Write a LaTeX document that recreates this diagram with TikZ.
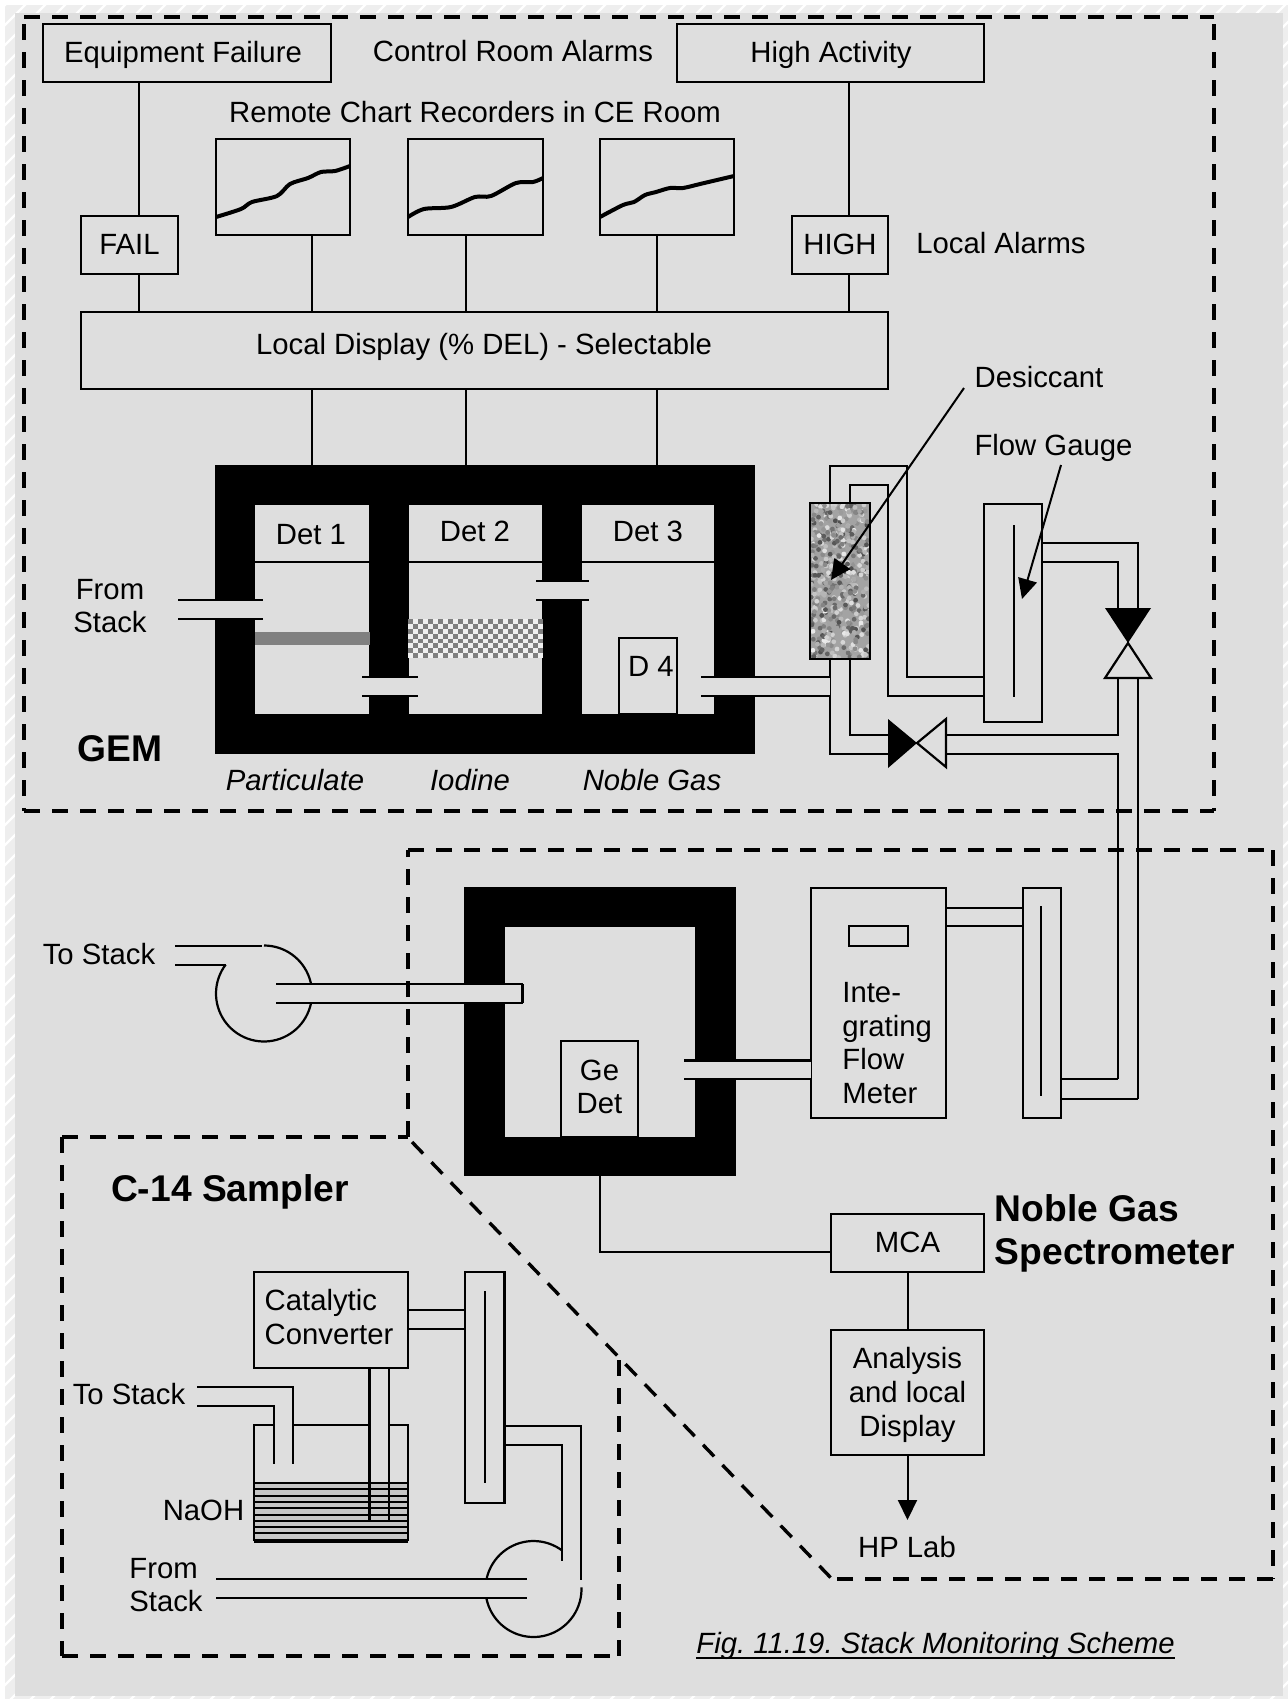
\documentclass[tikz,border=0pt]{standalone}
\usepackage{fontspec}
\setmainfont{Liberation Sans}
\usetikzlibrary{arrows.meta}
\frenchspacing

\definecolor{panel}{HTML}{DEDEDE}
\definecolor{band}{HTML}{EEEEEE}
\definecolor{felt}{HTML}{808080}
\definecolor{liquid}{HTML}{C6C6C6}

\newcommand{\lblfont}{\fontsize{14.65}{16.8}\selectfont}
\newcommand{\headfont}{\fontsize{18.6}{21.5}\selectfont\bfseries}
\newcommand{\duct}[4]{%
  \fill[panel] (#1,#2) rectangle (#3,#4);
  \draw[tube] (#1,#2) -- (#3,#2);
  \draw[tube] (#1,#4) -- (#3,#4);}

\tikzset{
  box/.style={draw,line width=1.2pt,fill=panel,inner sep=0pt,align=center,font=\lblfont},
  lbl/.style={inner sep=0pt,align=center,font=\lblfont},
  ital/.style={inner sep=0pt,font=\lblfont\itshape},
  head/.style={inner sep=0pt,align=left,font=\headfont},
  shield/.style={fill=black,inner sep=0pt},
  cell/.style={fill=panel,inner sep=0pt},
  wire/.style={line width=1pt},
  tube/.style={line width=1.1pt},
  dashbox/.style={line width=1.7pt,dash pattern=on 8pt off 6pt},
  ptr/.style={line width=1pt,-{Triangle[length=10pt,width=9.5pt]}},
  trace/.style={line width=2pt,line join=round}
}

\begin{document}
\begin{tikzpicture}[x=0.5pt,y=-0.5pt]
\useasboundingbox (0,0) rectangle (1288,1699);

\fill[white] (0,0) rectangle (1288,1699);
\begin{scope}
\clip (5,5) rectangle (1288,1699);
\fill[band] (5,5) rectangle (1288,1699);
\foreach \k in {10,30,...,3000}
  \draw[white,line width=1.2pt] (\k,0) -- (0,\k);
\end{scope}
\fill[panel] (15,13) rectangle (1283,1696);

\coordinate (failx) at (139,0);
\coordinate (highx) at (849,0);
\coordinate (linea) at (312,0);
\coordinate (lineb) at (466,0);
\coordinate (linec) at (657,0);

\node[box,minimum width=144pt,minimum height=29pt] (equip) at (187,53) {};
\node[lbl] (equiptxt) at (183,55) {Equipment Failure};
\node[box,minimum width=153.5pt,minimum height=29pt] (high) at (830.5,53) {};
\node[lbl] (hightxt) at (831,55) {High Activity};
\node[lbl] (alarms) at (513,51) {Control Room Alarms};
\node[lbl] (remote) at (475,112) {Remote Chart Recorders in CE Room};

\node[box,minimum width=67pt,minimum height=48pt] (chartA) at (283,187) {};
\node[box,minimum width=67.5pt,minimum height=48pt] (chartB) at (475.5,187) {};
\node[box,minimum width=67pt,minimum height=48pt] (chartC) at (667,187) {};
\draw[trace] plot[smooth] coordinates {(216,217) (241,209) (252,202) (277,196) (290,184) (308,178) (321,172) (335,171) (350,166)};
\draw[trace] plot[smooth] coordinates {(408,217) (424,209) (451,207) (475,197) (491,196) (516,183) (533,182) (543,178)};
\draw[trace] plot[smooth] coordinates {(600,217) (623,205) (634,202) (645,195) (656,192) (670,188) (683,188) (700,184) (734,176)};

\node[box,minimum width=48.5pt,minimum height=29pt] (fail) at (129.5,245) {};
\node[lbl] (failtxt) at (129.5,244) {FAIL};
\node[box,minimum width=48pt,minimum height=29pt] (hilocal) at (840,245) {};
\node[lbl] (hilocaltxt) at (840,244) {HIGH};
\node[lbl] (local) at (1001,243) {Local Alarms};
\node[box,minimum width=403.5pt,minimum height=38.5pt] (display) at (484.5,350.5) {};
\node[lbl] (displaytxt) at (484,347) {Local Display (\% DEL) - Selectable};

\draw[wire] (failx |- equip.south) -- (failx |- fail.north);
\draw[wire] (failx |- fail.south) -- (failx |- display.north);
\draw[wire] (highx |- high.south) -- (highx |- hilocal.north);
\draw[wire] (highx |- hilocal.south) -- (highx |- display.north);

\node[shield,minimum width=270pt,minimum height=144.5pt] (gem) at (485,609.5) {};
\node[cell,minimum width=57pt,minimum height=104.5pt] (cellA) at (312,609.5) {};
\node[cell,minimum width=66.75pt,minimum height=104.5pt] (cellB) at (475.25,609.5) {};
\node[cell,minimum width=66.25pt,minimum height=104.5pt] (cellC) at (647.75,609.5) {};

\foreach \ln/\ch in {linea/chartA,lineb/chartB,linec/chartC} {
  \draw[wire] (\ln |- \ch.south) -- (\ln |- display.north);
  \draw[wire] (\ln |- display.south) -- (\ln |- gem.north);
}

\foreach \c in {cellA,cellB,cellC}
  \draw[wire] (\c.west |- 0,562) -- (\c.east |- 0,562);

\node[lbl] (detA) at (311,535) {Det 1};
\node[lbl] (detB) at (475,531) {Det 2};
\node[lbl] (detC) at (648,531) {Det 3};

\fill[felt] (255,632) rectangle (370,645);
\fill[white!94!black] (408,619) rectangle (543,658);
\foreach \i in {0,...,26}
  \foreach \j in {0,...,7} {
    \pgfmathparse{int(mod(\i+\j,2))}
    \ifnum\pgfmathresult=0
      \fill[felt] ({408+5*\i},{619+4.875*\j}) rectangle ++(5,4.875);
    \fi
  }

\node[box,minimum width=29pt,minimum height=38pt] (dfour) at (648,676) {};
\node[lbl] (dfourtxt) at (651,666) {D 4};

\duct{178}{600}{263}{619}
\duct{362}{677}{418}{696}
\duct{536}{581}{589}{600}
\duct{701}{677}{830}{696}
\node[lbl] (fromA) at (110,606) {From\\Stack};

\node[head] (gemtxt) at (120,749) {GEM};
\node[ital] (part) at (295,780) {Particulate};
\node[ital] (iod) at (470,780) {Iodine};
\node[ital] (noble) at (652,780) {Noble Gas};

\node[box,minimum width=29pt,minimum height=77pt] (dryer) at (840,581) {};
\begin{scope}
\clip (dryer.south west) rectangle (dryer.north east);
\fill[black!36] (dryer.south west) rectangle (dryer.north east);
\pgfmathsetseed{11}
\foreach \n in {1,...,500} {
  \pgfmathsetmacro{\px}{811+58*rnd}
  \pgfmathsetmacro{\py}{504+154*rnd}
  \pgfmathsetmacro{\tone}{int(8+62*rnd)}
  \fill[black!\tone] (\px,\py) circle (1.2pt);
}
\end{scope}
\draw[line width=1.2pt] (dryer.south west) rectangle (dryer.north east);

\node[box,minimum width=29pt,minimum height=109pt] (gaugeA) at (1013,613) {};
\draw[wire] (1014,525) -- (1014,697);

\draw[tube] (dryer.north -| 830,0) |- (907,466) |- (gaugeA.west |- 0,677);
\draw[tube] (dryer.north -| 850,0) |- (888,485) |- (gaugeA.west |- 0,696);
\draw[tube] (gaugeA.east |- 0,543) -| (1138,608);
\draw[tube] (gaugeA.east |- 0,562) -| (1118,608);

\coordinate (vtop) at (1128,643);
\coordinate (vside) at (917,743);
\draw[tube,fill=panel] (vtop) -- ++(-23,35) -- ++(46,0) -- cycle;
\fill (vtop) -- ++(-23,-35) -- ++(46,0) -- cycle;
\draw[tube,fill=panel] (vside) -- ++(29,-24) -- ++(0,48) -- cycle;
\fill (vside) -- ++(-29,-24) -- ++(0,49) -- cycle;

\draw[tube] (dryer.south -| 830,0) -- (830,677);
\draw[line width=0.4pt] (830,677) -- (830,696);
\draw[tube] (830,696) |- (888,754);
\draw[tube] (dryer.south -| 850,0) |- (888,735);
\draw[tube] (946,735) -| (1118,678);
\draw[tube] (946,754) -| (1118,1079);
\draw[tube] (1138,678) -- (1138,1099);

\node[lbl] (desitxt) at (1039,377) {Desiccant};
\node[lbl] (gaugetxt) at (1053.5,448) {Flow Gauge};
\coordinate (desitip) at (831,580);
\coordinate (gaugetip) at (1022,599);
\draw[ptr] (964,388) -- (desitip);
\draw[ptr] (1061,465) -- (gaugetip);

\node[shield,minimum width=135.75pt,minimum height=144.5pt] (gesh) at (599.75,1031.5) {};
\node[cell,minimum width=94.75pt,minimum height=105pt] (gecell) at (599.75,1032) {};
\node[box,minimum width=38.5pt,minimum height=48pt] (gedet) at (599.5,1089) {};
\node[lbl] (gedettxt) at (599.5,1087) {Ge\\Det};

\node[box,minimum width=67.5pt,minimum height=115pt] (meter) at (878.5,1003) {};
\node[box,minimum width=29.5pt,minimum height=10pt] (slot) at (878.5,936) {};
\node[lbl,anchor=west,align=left] (metertxt) at (842,1043) {Inte-\\grating\\Flow\\Meter};

\node[box,minimum width=19pt,minimum height=115pt] (gaugeB) at (1042,1003) {};
\draw[wire] (1041,906) -- (1041,1096);

\draw[tube] (meter.east |- 0,908) -- (gaugeB.west |- 0,908);
\draw[tube] (meter.east |- 0,926) -- (gaugeB.west |- 0,926);
\draw[tube] (gaugeB.east |- 0,1079) -- (1118,1079);
\draw[tube] (gaugeB.east |- 0,1099) -- (1138,1099);

\duct{684}{1060.5}{811}{1079}

\draw[tube] (175,946) -- (262,946);
\draw[tube] (175,965) -- (226,965);
\coordinate (pumpA) at (264,993.5);
\draw[tube] plot[domain=143:450,samples=70,smooth] ({264+48*cos(\x)},{993.5-48*sin(\x)});
\duct{276}{984}{522.5}{1003}
\draw[tube] (522.5,984) -- (522.5,1003);
\node[lbl] (toA) at (99,954) {To Stack};

\node[box,minimum width=76.5pt,minimum height=29pt] (mca) at (907.5,1243) {};
\node[lbl] (mcatxt) at (907.5,1242) {MCA};
\node[box,minimum width=76.5pt,minimum height=62.5pt] (ana) at (907.5,1392.5) {};
\node[lbl] (anatxt) at (907.5,1395) {Analysis\\and local\\Display};
\node[lbl] (hplab) at (907,1547) {HP Lab};
\coordinate (hptip) at (907.5,1520);

\draw[wire] (gesh.south -| gedet) |- (mca.west |- 0,1252);
\draw[wire] (mca) -- (ana);
\draw[ptr] (ana.south) -- (hptip);

\node[head,anchor=west] (nobletxt) at (994.5,1233) {Noble Gas\\Spectrometer};

\node[head] (cfourteen) at (230,1192) {C-14 Sampler};

\node[box,minimum width=77pt,minimum height=48pt] (conv) at (331,1320) {};
\node[lbl,align=left] (convtxt) at (329,1317) {Catalytic\\Converter};
\node[box,minimum width=19.75pt,minimum height=115.5pt] (gaugeC) at (484.75,1387.5) {};
\draw[wire] (485,1291) -- (485,1483);

\draw[tube] (conv.east |- 0,1310) -- (gaugeC.west |- 0,1310);
\draw[tube] (conv.east |- 0,1329) -- (gaugeC.west |- 0,1329);

\node[fill=liquid,inner sep=0pt,minimum width=77pt,minimum height=29pt] (naoh) at (331,1512) {};
\foreach \n in {0,...,9}
  \draw[wire] (254,{1483+6.3*\n}) -- (408,{1483+6.3*\n});

\draw[tube] (274,1425) -| (254,1541);
\draw[tube] (293,1425) -- (370,1425);
\draw[tube] (389,1425) -| (408,1541);
\draw[line width=1.7pt] (254,1541) -- (408,1541);

\draw[tube] (conv.south -| 369.5,0) -- (369.5,1522);
\draw[tube] (conv.south -| 389,0) -- (389,1522);

\draw[tube] (197,1387) -| (293,1464);
\draw[tube] (197,1406) -| (274,1464);
\node[lbl] (toB) at (129,1394) {To Stack};
\node[lbl] (naohtxt) at (203.5,1510) {NaOH};

\draw[tube] (gaugeC.east |- 0,1426) -| (581,1580);
\draw[tube] (gaugeC.east |- 0,1445) -| (562,1561);
\coordinate (pumpB) at (533.5,1589);
\draw[tube] plot[domain=53:362,samples=70,smooth] ({533.5+48*cos(\x)},{1589-48*sin(\x)});
\duct{216}{1579}{526.5}{1598}
\node[lbl,align=left] (fromB) at (166,1585) {From\\Stack};

\node[lbl,anchor=base west,align=left] (capt) at (696,1653) {\itshape Fig. 11.19. Stack Monitoring Scheme};
\draw[line width=1.1pt] ([yshift=-2.5pt]capt.base west) -- ([yshift=-2.5pt]capt.base east);

\coordinate (gemNW) at (24,17);
\coordinate (gemSE) at (1214,811);
\draw[dashbox] (gemNW) -- (gemSE |- gemNW);
\draw[dashbox] (gemNW |- gemSE) -- (gemSE);
\draw[dashbox] (24,24) -- (gemNW |- gemSE);
\draw[dashbox] (1214,24) -- (gemSE);

\coordinate (nobleNW) at (408,850);
\coordinate (nobleSE) at (1273,1579);
\coordinate (nobleSW) at (832,1579);
\coordinate (nobleK) at (408,1137);
\draw[dashbox] (nobleK) -- (nobleNW);
\draw[dashbox] (nobleNW) -- (nobleNW -| nobleSE);
\draw[dashbox] (nobleNW -| nobleSE) -- (nobleSE);
\draw[dashbox] (nobleSE) -- (nobleSW);
\draw[dashbox] (412,1142) -- (nobleSW);

\coordinate (ctopL) at (62,1137);
\coordinate (cbotL) at (62,1656);
\coordinate (cbotR) at (619,1656);
\draw[dashbox] (ctopL) -- (nobleK);
\draw[dashbox] (ctopL) -- (cbotL);
\draw[dashbox] (cbotL) -- (cbotR);
\draw[dashbox] (619,1360) -- (cbotR);

\end{tikzpicture}
\end{document}
